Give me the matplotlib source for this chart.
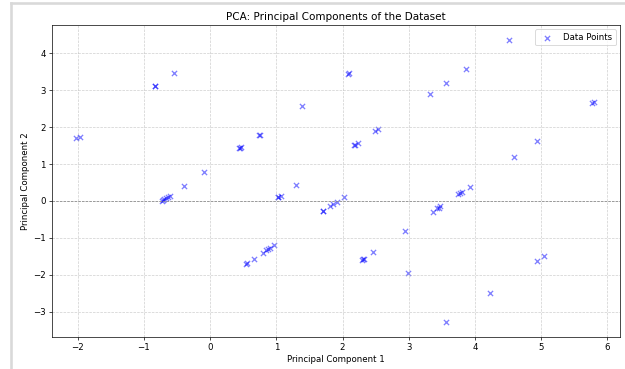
import matplotlib.pyplot as plt
from matplotlib.lines import Line2D

# Data
pc1 = [-2.02, -1.97, -0.84, -0.83, -0.54, 0.44, 0.46, 0.45, 0.74, 0.75,
       -0.09, -0.40, -0.73, -0.71, -0.69, -0.67, -0.64, -0.61, 1.38, 2.08,
       2.10, 2.18, 2.19, 2.23, 2.49, 2.53, 3.32, 3.56, 3.86, 4.52,
       5.77, 5.80, 4.94, 4.59, 0.54, 0.55, 0.66, 0.80, 0.85, 0.87,
       0.90, 0.96, 1.02, 1.03, 1.07, 1.30, 1.70, 1.71, 1.81, 1.86,
       1.92, 2.02, 2.30, 2.31, 2.33, 2.46, 2.94, 2.99, 3.36, 3.43,
       3.45, 3.47, 3.75, 3.77, 3.80, 3.92, 4.93, 5.04, 4.23, 3.56]
pc2 = [1.70, 1.73, 3.11, 3.12, 3.47, 1.42, 1.45, 1.43, 1.78, 1.79,
       0.78, 0.40, 0.00, 0.03, 0.05, 0.07, 0.10, 0.14, 2.57, 3.43,
       3.45, 1.51, 1.52, 1.58, 1.90, 1.94, 2.89, 3.19, 3.56, 4.36,
       2.65, 2.68, 1.62, 1.19, -1.70, -1.69, -1.56, -1.40, -1.32, -1.31,
       -1.27, -1.20, 0.10, 0.11, 0.14, 0.44, -0.28, -0.27, -0.14, -0.08,
       -0.02, 0.10, -1.59, -1.58, -1.56, -1.39, -0.81, -1.95, -0.30, -0.20,
       -0.18, -0.15, 0.19, 0.21, 0.23, 0.39, -1.62, -1.50, -2.48, -3.28]

# Plotting
fig = plt.figure(figsize=(10, 5.904))
ax = fig.add_axes([0.083, 0.087, 0.909, 0.845])
ax.scatter(pc1, pc2, marker='x', color='blue', alpha=0.5, label='Data Points')
ax.axhline(0, color='grey', linestyle='--', linewidth=0.8)

ax.set_xlim(-2.39, 6.19)
ax.set_ylim(-3.68, 4.76)

# Labels and Title
ax.set_xlabel('Principal Component 1')
ax.set_ylabel('Principal Component 2')
ax.set_title('PCA: Principal Components of the Dataset')
ax.legend(loc='upper right')
ax.grid(True, linestyle='--', alpha=0.6)

# light frame from the screenshot
fig.add_artist(Line2D([11 / 625, 11 / 625], [0, 1 - 3 / 369], color='#d9d9d9', linewidth=3))
fig.add_artist(Line2D([11 / 625, 1], [1 - 3 / 369, 1 - 3 / 369], color='#d9d9d9', linewidth=3))

plt.savefig('out.png', dpi=62.5)
